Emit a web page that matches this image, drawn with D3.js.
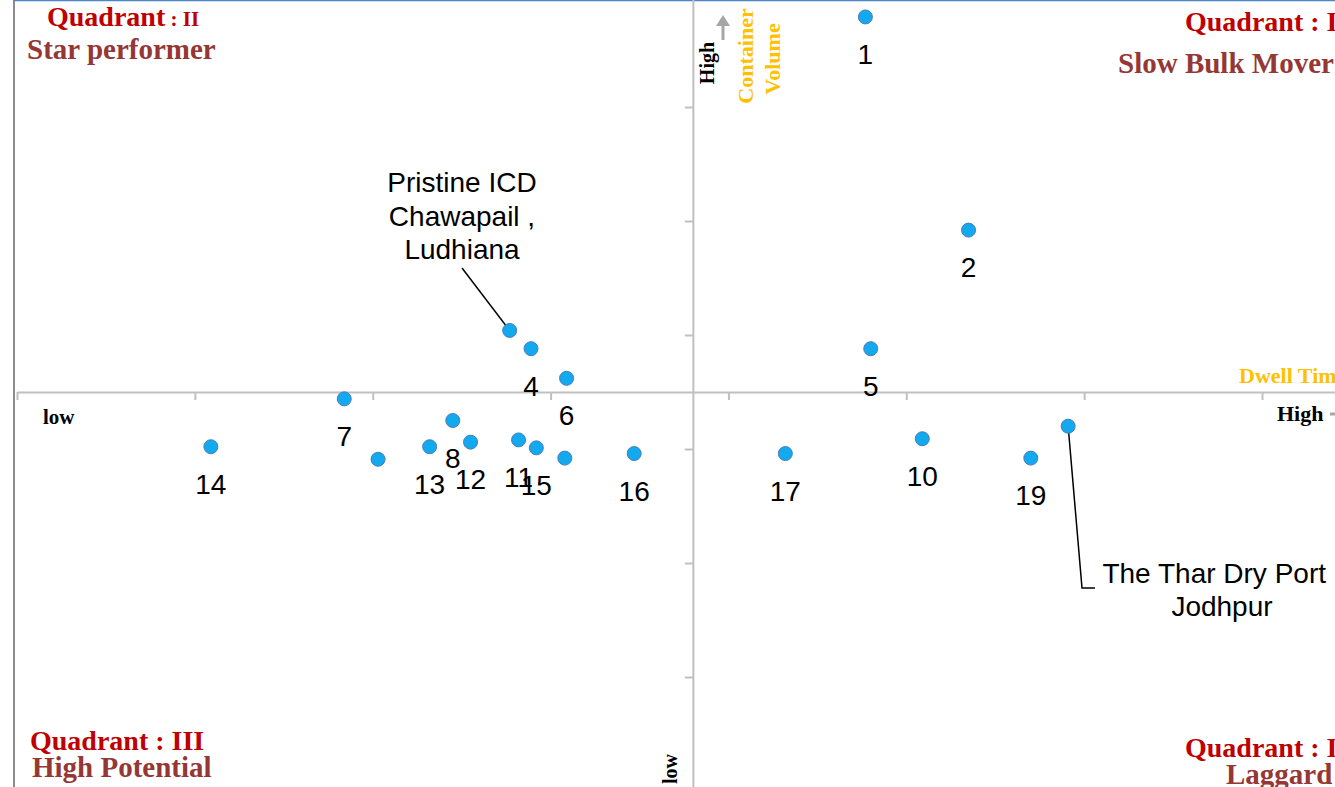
<!DOCTYPE html>
<html>
<head>
<meta charset="utf-8">
<script src="https://cdn.jsdelivr.net/npm/d3@7"></script>
<style>
  html, body { margin: 0; padding: 0; background: #fff; overflow: hidden; }
  svg { display: block; }
  .serif { font-family: "Liberation Serif", "Times New Roman", serif; font-weight: bold; }
  .num { font-family: "Liberation Sans", Arial, sans-serif; font-size: 28px; fill: #000; }
</style>
</head>
<body>
<svg id="chart" width="1335" height="787"></svg>
<script>
// dwell time (x) and container volume (y) of each dry port, in axis units
let labels = ['1', '2', '', '4', '6', '5', '7', '', '14', '8', '13', '12', '11', '15', '', '16', '17', '10', '19', '']
let dwell  = [4.77, 5.35, 2.77, 2.89, 3.09, 4.80, 1.84, 2.03, 1.09, 2.45, 2.32, 2.55, 2.82, 2.92, 3.08, 3.47, 4.32, 5.09, 5.70, 5.91]
let volume = [6.79, 4.92, 4.04, 3.88, 3.62, 3.88, 3.44, 2.91, 3.02, 3.25, 3.02, 3.06, 3.08, 3.01, 2.92, 2.96, 2.96, 3.09, 2.92, 3.20]

// named ports with call-outs (index into the arrays above)
let calloutIndex = [2, 19]
let calloutText = [['Pristine ICD', 'Chawapail ,', 'Ludhiana'], ['The Thar Dry Port ,', 'Jodhpur']]

let xTicks = [0, 1, 2, 3, 4, 5, 6, 7]
let yTicks = [1, 2, 3, 4, 5, 6]
let xCross = 3.8
let yCross = 3.5

let svg = d3.select('#chart')

let x = d3.scaleLinear().domain([0, 7.5]).range([17, 17 + 177.86 * 7.5])
let y = d3.scaleLinear().domain([0, 7]).range([791, 791 - 114 * 7])

// frame lines
svg.append('line').attr('x1', 14).attr('x2', 14).attr('y1', 0).attr('y2', 787)
    .attr('stroke', '#8c8c8c').attr('stroke-width', 2)
svg.append('line').attr('x1', 14).attr('x2', 1335).attr('y1', 0.5).attr('y2', 0.5)
    .attr('stroke', '#4a86c8').attr('stroke-width', 1.5)

// axes crossing in the middle
let xAxis = svg.append('g')
    .attr('transform', 'translate(0,' + y(yCross) + ')')
    .call(d3.axisBottom(x).tickValues(xTicks).tickFormat('').tickSize(8).tickSizeOuter(0))
let yAxis = svg.append('g')
    .attr('transform', 'translate(' + x(xCross) + ',0)')
    .call(d3.axisLeft(y).tickValues(yTicks).tickFormat('').tickSize(8).tickSizeOuter(0))

svg.selectAll('.domain, .tick line')
    .attr('stroke', '#c0c0c0')
    .attr('stroke-width', 2)

// call-out lines
let pr = calloutIndex[0]
svg.append('line')
    .attr('x1', x(dwell[pr])).attr('y1', y(volume[pr]))
    .attr('x2', 462).attr('y2', 268)
    .attr('stroke', '#000').attr('stroke-width', 1.5)
let th = calloutIndex[1]
svg.append('polyline')
    .attr('points', [[x(dwell[th]), y(volume[th])], [1082, 588], [1095, 588]].join(' '))
    .attr('fill', 'none').attr('stroke', '#000').attr('stroke-width', 1.5)

// points
svg.selectAll('circle.port')
    .data(dwell)
    .enter()
    .append('circle')
    .attr('class', 'port')
    .attr('cx', (d) => x(d))
    .attr('cy', (d, i) => y(volume[i]))
    .attr('r', 7)
    .attr('fill', '#12a9ee')
    .attr('stroke', '#4a7ebb')
    .attr('stroke-width', 1)

svg.selectAll('text.lbl')
    .data(labels)
    .enter()
    .append('text')
    .attr('class', 'num lbl')
    .attr('x', (d, i) => x(dwell[i]))
    .attr('y', (d, i) => y(volume[i]) + 47)
    .attr('text-anchor', 'middle')
    .text((d) => d)

// call-out texts
let prText = svg.append('text').attr('class', 'num').attr('text-anchor', 'middle')
calloutText[0].forEach((t, i) => {
    prText.append('tspan').attr('x', 462).attr('y', 192 + i * 33.5).text(t)
})
let thText = svg.append('text').attr('class', 'num').attr('text-anchor', 'middle')
calloutText[1].forEach((t, i) => {
    thText.append('tspan').attr('x', 1222).attr('y', 583 + i * 33).text(t)
})

// quadrant titles
let quad = (tx, ty, title, sub, sx, sy) => {
    svg.append('text').attr('class', 'serif').attr('x', tx).attr('y', ty)
        .attr('font-size', 28).attr('fill', '#c00000').text(title)
    svg.append('text').attr('class', 'serif').attr('x', sx).attr('y', sy)
        .attr('font-size', 29).attr('fill', '#953735').text(sub)
}
let q2 = svg.append('text').attr('class', 'serif').attr('x', 47).attr('y', 26).attr('fill', '#c00000')
q2.append('tspan').attr('font-size', 28).text('Quadrant')
q2.append('tspan').attr('font-size', 21).text(' : II')
svg.append('text').attr('class', 'serif').attr('x', 27).attr('y', 59)
    .attr('font-size', 29).attr('fill', '#953735').text('Star performer')
quad(1185, 31, 'Quadrant : I', 'Slow Bulk Mover', 1118, 73)
quad(30, 750, 'Quadrant : III', 'High Potential', 32, 777)
quad(1185, 757, 'Quadrant : IV', 'Laggard', 1226, 784)

// axis words
let word = (tx, ty, rot, size, color, t) => {
    svg.append('text').attr('class', 'serif')
        .attr('transform', 'translate(' + tx + ',' + ty + ') rotate(' + rot + ')')
        .attr('text-anchor', rot ? 'middle' : 'start')
        .attr('font-size', size).attr('fill', color).text(t)
}
word(714, 63, -90, 20, '#000', 'High')
word(753, 56, -90, 22, '#ffc000', 'Container')
word(780, 59, -90, 22, '#ffc000', 'Volume')
word(677, 769, -90, 20, '#000', 'low')
word(43, 424, 0, 21, '#000', 'low')
word(1277, 421, 0, 22, '#000', 'High')
word(1239, 383, 0, 22, '#ffc000', 'Dwell Time')

// arrows
svg.append('line').attr('x1', 723).attr('x2', 723).attr('y1', 40).attr('y2', 24)
    .attr('stroke', '#a6a6a6').attr('stroke-width', 3)
svg.append('path').attr('d', 'M716,26 L723,15 L730,26 Z').attr('fill', '#a6a6a6')
svg.append('line').attr('x1', 1330).attr('x2', 1345).attr('y1', 414).attr('y2', 414)
    .attr('stroke', '#a6a6a6').attr('stroke-width', 3)
</script>
</body>
</html>
